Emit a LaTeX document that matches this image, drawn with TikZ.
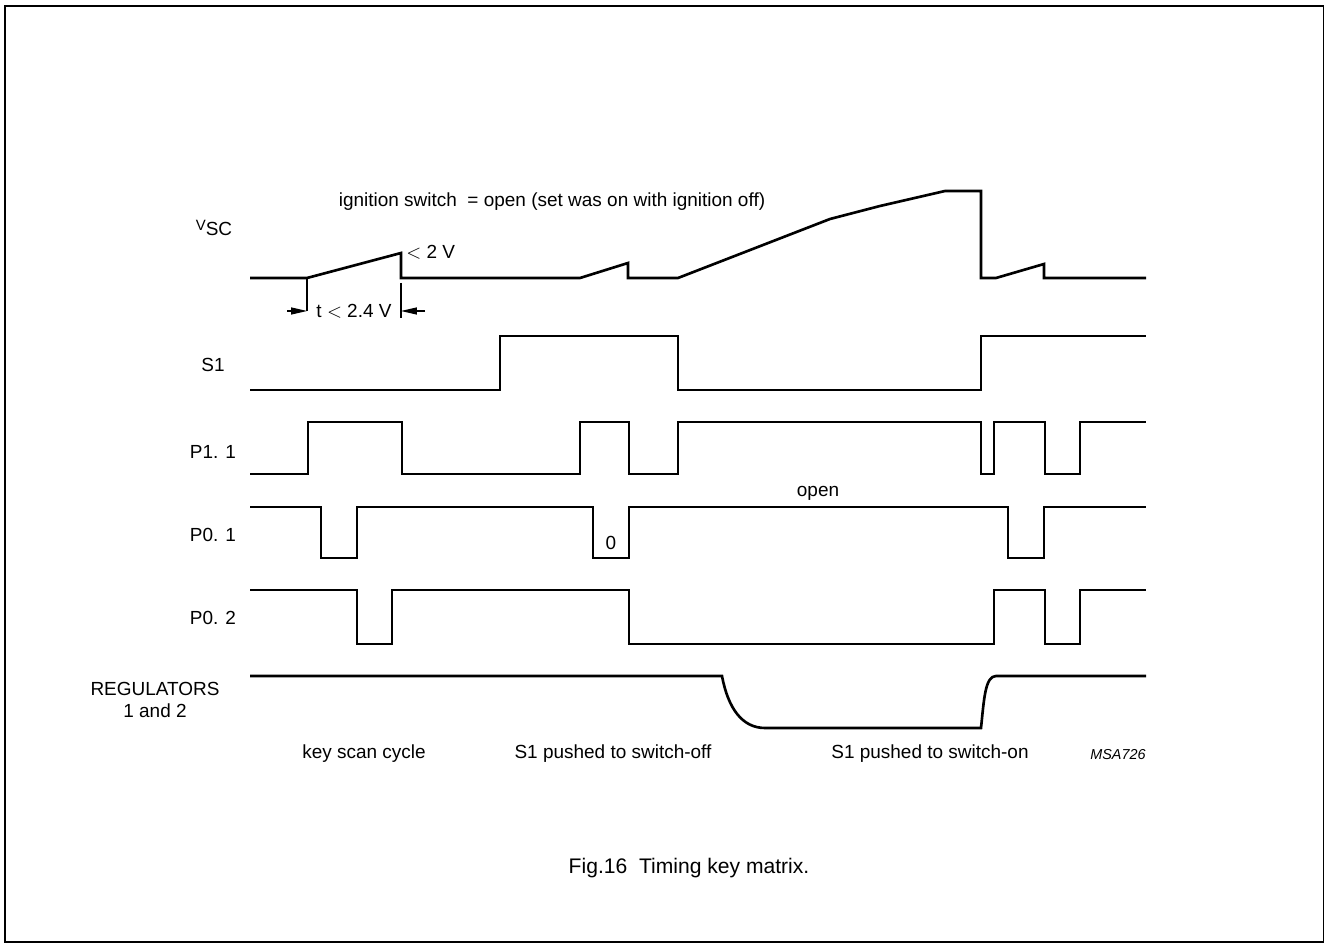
\documentclass[tikz,border=0pt]{standalone}
\usepackage{fontspec}
\setmainfont{Liberation Sans}
\usetikzlibrary{arrows.meta}

\begin{document}
\begin{tikzpicture}[x=0.02cm, y=-0.02cm, font=\fontsize{10.8}{13}\selectfont,
  wave/.style={line width=1.5pt, line join=miter},
  dim/.style={line width=0.6pt},
  sig/.style={anchor=center, inner sep=0pt}]
  \useasboundingbox (0,0) rectangle (1326,945);
  % Frame
  \draw[line width=1.1pt] (5,6) rectangle (1323.5,942);

  % Signal names
  \node[sig] (vsc) at (214,228) {\raisebox{0.55ex}{\fontsize{8.5}{9}\selectfont V}SC};
  \node[sig] (s1) at (213,365) {S1};
  \node[sig] (p11) at (213,452) {P1. 1};
  \node[sig] (p01) at (213,535) {P0. 1};
  \node[sig] (p02) at (213,618) {P0. 2};
  \node[sig, align=center] (reg) at (155,700) {REGULATORS\\1 and 2};

  % VSC
  \draw[wave] (250,278) -- (307,278) -- (401,253) -- (401,278) -- (580,278) -- (628,263) -- (628,278)
    -- (678,278) -- (830,219) -- (880,206) -- (945,191) -- (981,191) -- (981,278)
    -- (996,278) -- (1044,264) -- (1044,278) -- (1146,278);
  \node[sig] (ign) at (552,202) {ignition switch\ \ = open (set was on with ignition off)};
  \node[sig, anchor=west] (lt2) at (406,252) {$<$ 2 V};

  % t < 2.4 V
  \coordinate (ta) at (307,278);
  \coordinate (tb) at (401,283);
  \draw[dim] (ta) -- ++(0,33);
  \draw[dim] (tb) -- ++(0,35);
  \node[sig] (tdim) at (354,311) {t $<$ 2.4 V};
  \draw[dim, -{Triangle[length=9pt,width=4pt]}] (287,311) -- (307,311);
  \draw[dim, -{Triangle[length=9pt,width=4pt]}] (425,311) -- (401,311);

  % S1
  \draw[wave] (250,390) -- (500,390) -- (500,336) -- (678,336) -- (678,390) -- (981,390) -- (981,336) -- (1146,336);

  % P1.1
  \draw[wave] (250,474) -- (308,474) -- (308,422) -- (402,422) -- (402,474) -- (580,474) -- (580,422)
    -- (629,422) -- (629,474) -- (678,474) -- (678,422) -- (981,422) -- (981,474) -- (994,474)
    -- (994,422) -- (1045,422) -- (1045,474) -- (1080,474) -- (1080,422) -- (1146,422);

  % P0.1
  \draw[wave] (250,507) -- (321,507) -- (321,558) -- (357,558) -- (357,507) -- (593,507) -- (593,558)
    -- (629,558) -- (629,507) -- (1008,507) -- (1008,558) -- (1044,558) -- (1044,507) -- (1146,507);
  \node[sig] (zero) at (611,543) {0};
  \node[sig] (open) at (818,493) {open};

  % P0.2
  \draw[wave] (250,590) -- (357,590) -- (357,644) -- (392,644) -- (392,590) -- (629,590) -- (629,644)
    -- (994,644) -- (994,590) -- (1045,590) -- (1045,644) -- (1080,644) -- (1080,590) -- (1146,590);

  % Regulators
  \draw[wave] (250,676) -- (722,676) .. controls (728,708) and (742,728) .. (765,728) -- (981,728)
    .. controls (984,700) and (985,676) .. (996,676) -- (1146,676);

  % Phases
  \node[sig] (scan) at (364,754) {key scan cycle};
  \node[sig] (off) at (613,754) {S1 pushed to switch-off};
  \node[sig] (on) at (930,754) {S1 pushed to switch-on};
  \node[sig, font=\fontsize{8.2}{10}\selectfont\itshape] (msa) at (1118,755) {MSA726};

  \node[sig, font=\fontsize{12}{14}\selectfont] (cap) at (689,868) {Fig.16\ \ Timing key matrix.};
\end{tikzpicture}
\end{document}
